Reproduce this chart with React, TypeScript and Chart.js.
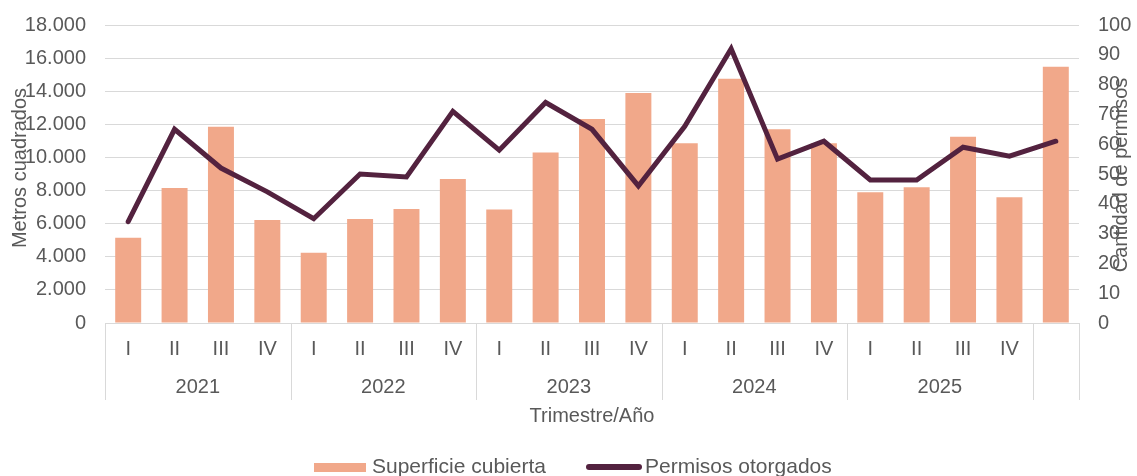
import React, { useEffect, useRef } from 'react';
import { Chart, registerables } from 'chart.js';

Chart.register(...registerables);

const quarters = ['I', 'II', 'III', 'IV', 'I', 'II', 'III', 'IV', 'I', 'II', 'III', 'IV', 'I', 'II', 'III', 'IV', 'I', 'II', 'III', 'IV', ''];
const years = ['2021', '2022', '2023', '2024', '2025'];
const superficie = [5150, 8150, 11850, 6220, 4250, 6280, 6890, 8700, 6850, 10300, 12320, 13900, 10850, 14750, 11700, 10850, 7900, 8200, 11250, 7600, 15480];
const permisos = [34, 65, 52, 44, 35, 50, 49, 71, 58, 74, 65, 46, 66, 92, 55, 61, 48, 48, 59, 56, 61];
const leftAxis = { min: 0, max: 18000, step: 2000 };
const rightAxis = { min: 0, max: 100, step: 10 };

const TEXT = '#595959';
const GRID = '#D9D9D9';
const BAR = '#F1A88A';
const LINE = '#53223F';
const FONT = "'Liberation Sans', Arial, sans-serif";

const fmt = (v: number) => String(v).replace(/\B(?=(\d{3})+(?!\d))/g, '.');

const decor = {
  id: 'decor',
  afterDraw(chart: any) {
    const ctx = chart.ctx as CanvasRenderingContext2D;
    const x = chart.scales.x;
    const area = chart.chartArea;
    const step = x.getPixelForValue(1) - x.getPixelForValue(0);
    const start = x.getPixelForValue(0) - step / 2;
    ctx.save();
    // group separators
    ctx.strokeStyle = GRID;
    ctx.lineWidth = 1;
    [0, 4, 8, 12, 16, 20, 21].forEach((b) => {
      const px = Math.round(start + b * step) + 0.5;
      ctx.beginPath();
      ctx.moveTo(px, area.bottom);
      ctx.lineTo(px, area.bottom + 77);
      ctx.stroke();
    });
    // year labels
    ctx.fillStyle = TEXT;
    ctx.font = `20px ${FONT}`;
    ctx.textAlign = 'center';
    ctx.textBaseline = 'middle';
    years.forEach((y, i) => {
      const cx = (x.getPixelForValue(i * 4 + 1) + x.getPixelForValue(i * 4 + 2)) / 2;
      ctx.fillText(y, cx, area.bottom + 64);
    });
    // axis titles
    ctx.save();
    ctx.translate(20, 168);
    ctx.rotate(-Math.PI / 2);
    ctx.fillText('Metros cuadrados', 0, 0);
    ctx.restore();
    ctx.save();
    ctx.translate(1121, 175);
    ctx.rotate(-Math.PI / 2);
    ctx.fillText('Cantidad de permisos', 0, 0);
    ctx.restore();
    // legend
    ctx.font = `21px ${FONT}`;
    ctx.textAlign = 'left';
    ctx.fillStyle = BAR;
    ctx.fillRect(314, 463, 52, 9);
    ctx.fillStyle = TEXT;
    ctx.fillText('Superficie cubierta', 372, 467);
    ctx.strokeStyle = LINE;
    ctx.lineWidth = 6;
    ctx.lineCap = 'round';
    ctx.beginPath();
    ctx.moveTo(589, 467);
    ctx.lineTo(639, 467);
    ctx.stroke();
    ctx.fillText('Permisos otorgados', 645, 467);
    ctx.restore();
  },
};

export default function App() {
  const ref = useRef<HTMLCanvasElement | null>(null);
  useEffect(() => {
    document.body.style.margin = '0';
    const canvas = ref.current;
    if (!canvas) return;
    const chart = new Chart(canvas, {
      type: 'bar',
      data: {
        labels: quarters,
        datasets: [
          {
            type: 'line',
            label: 'Permisos otorgados',
            data: permisos,
            yAxisID: 'y1',
            borderColor: LINE,
            backgroundColor: LINE,
            borderWidth: 5,
            borderCapStyle: 'round',
            borderJoinStyle: 'miter',
            pointRadius: 0,
            fill: false,
            tension: 0,
            order: 0,
          },
          {
            type: 'bar',
            label: 'Superficie cubierta',
            data: superficie,
            yAxisID: 'y',
            backgroundColor: BAR,
            borderWidth: 0,
            barPercentage: 0.56,
            categoryPercentage: 1,
            order: 1,
          },
        ] as any,
      },
      options: {
        responsive: true,
        maintainAspectRatio: false,
        animation: false,
        layout: { padding: { top: 25, left: 0, right: 0, bottom: 0 } },
        plugins: {
          legend: { display: false },
          tooltip: { enabled: false },
        },
        scales: {
          x: {
            offset: true,
            grid: { display: false, drawTicks: false },
            border: { display: false },
            ticks: {
              color: TEXT,
              font: { family: FONT, size: 20 },
              padding: 14,
              autoSkip: false,
              maxRotation: 0,
            },
            title: {
              display: true,
              text: 'Trimestre/Año',
              color: TEXT,
              font: { family: FONT, size: 20 },
              padding: { top: 0, bottom: 48 },
            },
            afterFit(scale: any) {
              scale.height = 153;
            },
          },
          y: {
            position: 'left',
            min: leftAxis.min,
            max: leftAxis.max,
            grid: { color: GRID, lineWidth: 1, drawTicks: false },
            border: { display: false },
            ticks: {
              stepSize: leftAxis.step,
              color: TEXT,
              font: { family: FONT, size: 20 },
              padding: 19,
              callback: (v: any) => fmt(Number(v)),
            },
            afterFit(scale: any) {
              scale.width = 105;
              scale.paddingTop = 0;
              scale.paddingBottom = 0;
            },
          },
          y1: {
            position: 'right',
            min: rightAxis.min,
            max: rightAxis.max,
            grid: { display: false, drawTicks: false },
            border: { display: false },
            ticks: {
              stepSize: rightAxis.step,
              color: TEXT,
              font: { family: FONT, size: 20 },
              padding: 19,
            },
            afterFit(scale: any) {
              scale.width = 58;
              scale.paddingTop = 0;
              scale.paddingBottom = 0;
            },
          },
        },
      } as any,
      plugins: [decor],
    });
    return () => chart.destroy();
  }, []);
  return (
    <div style={{ position: 'relative', width: '1137px', height: '476px' }}>
      <canvas ref={ref} style={{ display: 'block' }} />
    </div>
  );
}
